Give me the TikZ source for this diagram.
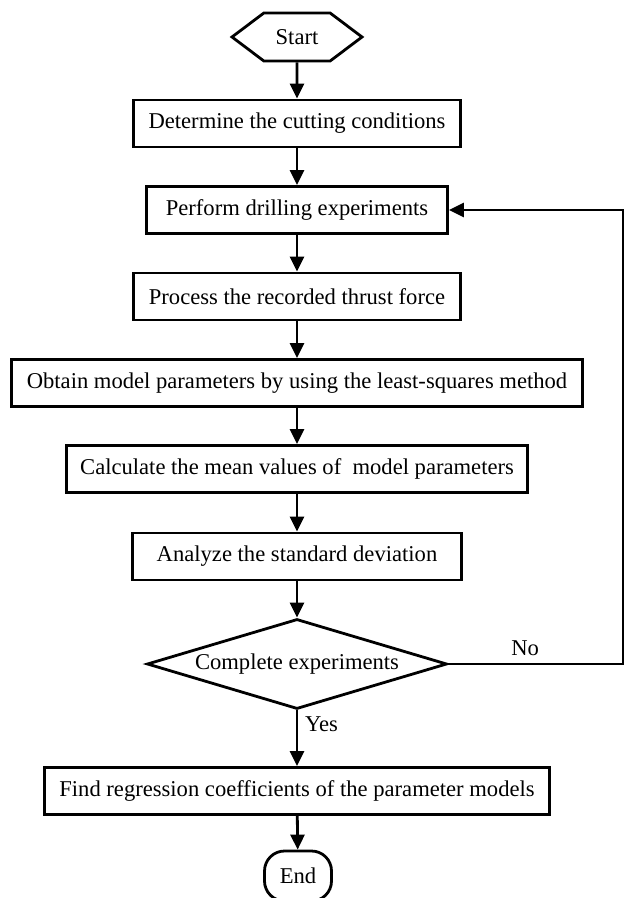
\documentclass[tikz,border=0pt]{standalone}
\usepackage{fontspec}
\setmainfont{Liberation Serif}
\usetikzlibrary{arrows.meta,shapes.geometric,shapes.symbols}
\tikzset{
  stepbox/.style={draw, line width=1.4pt, rectangle, minimum height=23.5pt, inner sep=0pt},
  flow/.style={line width=1.4pt, -{Triangle[length=7.5pt,width=7pt]}},
}
\begin{document}
\begin{tikzpicture}[x=0.5pt,y=-0.5pt, font=\fontsize{11.3}{13}\selectfont]
\useasboundingbox (0,0) rectangle (625,898);
\node[draw, line width=1.4pt, signal, signal to=west and east, signal pointer angle=74,
  minimum width=65pt, minimum height=24pt, inner sep=0pt] (start) at (297,37) {Start};
\node[stepbox, minimum width=163.5pt] (cond) at (297,123.5) {Determine the cutting conditions};
\node[stepbox, minimum width=150.5pt] (drill) at (297,210) {Perform drilling experiments};
\node[stepbox, minimum width=163.5pt] (force) at (297,296.5) {Process the recorded thrust force};
\node[stepbox, minimum width=285.5pt] (lsq) at (297,383) {Obtain model parameters by using the least-squares method};
\node[stepbox, minimum width=230.5pt] (mean) at (297,469) {Calculate the mean values of~ model parameters};
\node[stepbox, minimum width=164.5pt] (dev) at (297,556.5) {Analyze the standard deviation};
\node[draw, line width=1.4pt, diamond, aspect=3.33, minimum width=150pt, minimum height=45pt,
  inner sep=0pt] (done) at (297,664) {Complete experiments};
\node[stepbox, minimum width=252.5pt] (coef) at (297,791) {Find regression coefficients of the parameter models};
\node[stepbox, rounded corners=10pt, minimum width=33.5pt, minimum height=25pt] (end) at (298,876) {End};
\coordinate (turn) at (623,664);
% main flow
\draw[flow] (start) -- (cond);
\draw[flow] (cond) -- (drill);
\draw[flow] (drill) -- (force);
\draw[flow] (force) -- (lsq);
\draw[flow] (lsq) -- (mean);
\draw[flow] (mean) -- (dev);
\draw[flow] (dev) -- (done);
\draw[flow] (done) -- node[right, pos=0.25]{Yes} (coef);
\draw[flow] (coef) -- (end);
% loop back
\draw[flow] (done.east) -- node[above, pos=0.44]{No} (turn) |- (drill);
\end{tikzpicture}
\end{document}
